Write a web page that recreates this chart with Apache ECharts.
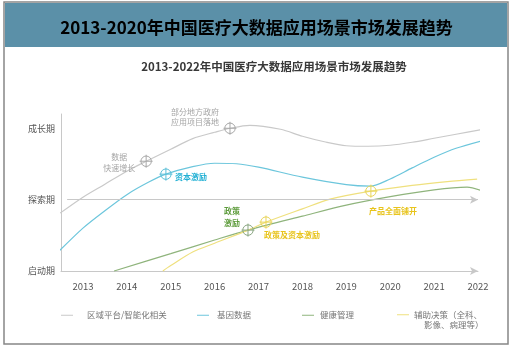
<!DOCTYPE html>
<html>
<head>
<meta charset="utf-8">
<script src="https://cdn.jsdelivr.net/npm/echarts@6/dist/echarts.min.js"></script>
<style>html,body{margin:0;padding:0;background:#fff;}#main{width:513px;height:349px;}</style>
</head>
<body>
<div id="main"></div>
<script>
// ---- data ----
var mainTitle = '2013-2020年中国医疗大数据应用场景市场发展趋势';
var subTitle = '2013-2022年中国医疗大数据应用场景市场发展趋势';
var stageLabels = ['启动期', '探索期', '成长期'];
var seriesNames = ['区域平台/智能化相关', '基因数据', '健康管理', '辅助决策（全科、\n影像、病理等）'];

var grayData = [[2012.48,0.811],[2013,1.035],[2013.5,1.217],[2014,1.399],[2014.44,1.538],[2015,1.706],[2015.5,1.855],[2016,1.944],[2016.35,2.0],[2016.8,2.042],[2017.5,1.986],[2018,1.888],[2018.5,1.811],[2019,1.755],[2019.5,1.748],[2020,1.762],[2020.5,1.804],[2021,1.86],[2021.5,1.916],[2022.11,1.986]];
var blueData = [[2012.39,0.238],[2013,0.601],[2013.5,0.845],[2014,1.07],[2014.5,1.246],[2014.89,1.357],[2015.5,1.462],[2016,1.51],[2016.5,1.503],[2017,1.455],[2018,1.315],[2019,1.21],[2019.54,1.189],[2020,1.29],[2020.5,1.445],[2021,1.594],[2021.5,1.72],[2022.13,1.832]];
var greenData = [[2013.71,0],[2015,0.243],[2016,0.434],[2016.76,0.573],[2018,0.769],[2019,0.923],[2020,1.042],[2021,1.138],[2021.75,1.175],[2022.11,1.119]];
var yellowData = [[2014.82,0],[2015,0.076],[2015.5,0.266],[2016,0.389],[2016.76,0.573],[2017.17,0.685],[2018,0.871],[2018.63,1.007],[2019.56,1.119],[2020.5,1.199],[2021.3,1.252],[2021.98,1.287]];

var grayMarks = [[2014.44,1.538],[2016.35,2.0]];
var grayMarkText = ['数据\n快速增长', '部分地方政府\n应用项目落地'];
var blueMarks = [[2014.89,1.357]];
var blueMarkText = ['资本激励'];
var greenMarks = [[2016.76,0.573]];
var greenMarkText = ['政策\n激励'];
var yellowMarks = [[2017.17,0.685],[2019.56,1.119]];
var yellowMarkText = ['政策及资本激励', '产品全面铺开'];

var stageLineY = 1;
var dividerYear = 2018.63;

// ---- styles ----
var FONT = '"Noto Sans CJK SC", "Noto Sans", sans-serif';
var colors = ['#c9c9c9', '#6cc6dc', '#8fb47c', '#efe07e'];
var markColors = ['#a8a8a8', '#5bbfd8', '#8aa682', '#e9d55a'];
var labelColors = ['#a6a6a6', '#22b0d4', '#5e9c3c', '#e8c41c'];
var crossPath = 'path://M12,0 A12,12 0 1,1 -12,0 A12,12 0 1,1 12,0 Z M0,-15 L0,15 M-15,0 L15,0';

function makeMarks(coords, texts, idx, cfg) {
  return coords.map(function (c, i) {
    return {
      coord: c,
      label: {
        show: true, formatter: texts[i], position: 'inside',
        offset: cfg[i].offset, align: cfg[i].align, verticalAlign: 'middle',
        color: labelColors[idx], fontSize: 8, lineHeight: cfg[i].lh || 11,
        fontWeight: idx === 0 ? 'normal' : 'bold', fontFamily: FONT
      }
    };
  });
}

function markPointOf(coords, texts, idx, cfg) {
  return {
    symbol: crossPath, symbolSize: 13, silent: true,
    itemStyle: { color: 'rgba(0,0,0,0)', borderColor: markColors[idx], borderWidth: 1 },
    data: makeMarks(coords, texts, idx, cfg)
  };
}

var legendText = { color: '#777', fontSize: 8.5, fontFamily: FONT };

var chart = echarts.init(document.getElementById('main'));
var option = {
  animation: false,
  backgroundColor: '#fff',
  title: {
    text: mainTitle, left: 'center', top: 14,
    textStyle: { fontSize: 17, fontWeight: 'bold', color: '#000', fontFamily: FONT }
  },
  graphic: [
    { type: 'rect', z: -10, shape: { x: 5, y: 3, width: 502, height: 44 }, style: { fill: '#5b90a8' } },
    { type: 'rect', z: -9, shape: { x: 4, y: 2, width: 504, height: 342 }, style: { fill: 'none', stroke: '#878787', lineWidth: 1.5 } },
    { type: 'text', style: { text: subTitle, x: 274, y: 67, textAlign: 'center', textVerticalAlign: 'middle', font: 'bold 11.5px ' + FONT, fill: '#383838' } }
  ],
  grid: { left: 61, right: 35, top: 114, bottom: 78 },
  xAxis: {
    type: 'value', min: 2012.5, max: 2022, interval: 0.5,
    axisLine: { show: true, lineStyle: { color: '#c8c8c8', width: 1 }, symbol: ['none', 'arrow'], symbolSize: [6, 8] },
    axisTick: { show: false }, splitLine: { show: false },
    axisLabel: {
      color: '#555', fontSize: 9.5, fontFamily: FONT, margin: 11,
      formatter: function (v) { return Math.abs(v - Math.round(v)) < 1e-6 ? String(Math.round(v)) : ''; }
    }
  },
  yAxis: {
    type: 'value', min: 0, max: 2.2, interval: 1,
    axisLine: { show: true, lineStyle: { color: '#c8c8c8', width: 1 } },
    axisTick: { show: false }, splitLine: { show: false },
    axisLabel: {
      color: '#555', fontSize: 9, fontFamily: FONT, margin: 6,
      formatter: function (v) { return Math.abs(v - Math.round(v)) < 1e-6 ? (stageLabels[Math.round(v)] || '') : ''; }
    }
  },
  legend: [
    { left: 56, top: 306, itemWidth: 12, itemHeight: 1, icon: 'rect', data: [seriesNames[0]], textStyle: Object.assign({ padding: [0, 0, 0, 9] }, legendText) },
    { left: 192, top: 306, itemWidth: 12, itemHeight: 1, icon: 'rect', data: [seriesNames[1]], textStyle: Object.assign({ padding: [0, 0, 0, 3] }, legendText) },
    { left: 297, top: 306, itemWidth: 12, itemHeight: 1, icon: 'rect', data: [seriesNames[2]], textStyle: Object.assign({ padding: [0, 0, 0, 1] }, legendText) },
    { left: 392, top: 306, itemWidth: 12, itemHeight: 1, icon: 'rect', data: [seriesNames[3]],
      formatter: function (n) { var p = n.split('\n'); return '{a|' + p[0] + '}\n{b|' + p[1] + '}'; },
      textStyle: { color: '#777', fontSize: 8.5, fontFamily: FONT, padding: [11, 0, 0, 0],
        rich: { a: { color: '#777', fontSize: 8.5, fontFamily: FONT, lineHeight: 10 }, b: { color: '#777', fontSize: 8.5, fontFamily: FONT, lineHeight: 10, padding: [0, 0, 0, 10] } } } }
  ],
  series: [
    {
      name: seriesNames[0], type: 'line', data: grayData, smooth: 0.3, showSymbol: false, clip: false,
      lineStyle: { color: colors[0], width: 1.2 }, itemStyle: { color: colors[0] },
      markPoint: markPointOf(grayMarks, grayMarkText, 0, [{ offset: [-27, 1], align: 'center' }, { offset: [-35, -11], align: 'center', lh: 10 }]),
      markLine: {
        silent: true, label: { show: false },
        data: [
          [{ coord: [2012.64, stageLineY], symbol: 'none' }, { coord: [2022, stageLineY], symbol: 'arrow', symbolSize: [6, 8] }],
          [{ coord: [dividerYear, 0], symbol: 'none' }, { coord: [dividerYear, 2.21], symbol: 'none' }]
        ],
        lineStyle: { color: '#c8c8c8', width: 1, type: 'solid' }
      }
    },
    {
      name: seriesNames[1], type: 'line', data: blueData, smooth: 0.3, showSymbol: false, clip: false,
      lineStyle: { color: colors[1], width: 1.2 }, itemStyle: { color: colors[1] },
      markPoint: markPointOf(blueMarks, blueMarkText, 1, [{ offset: [9, 3], align: 'left' }])
    },
    {
      name: seriesNames[2], type: 'line', data: greenData, smooth: 0.3, showSymbol: false, clip: false,
      lineStyle: { color: colors[2], width: 1.2 }, itemStyle: { color: colors[2] },
      markPoint: markPointOf(greenMarks, greenMarkText, 2, [{ offset: [-16, -13], align: 'center', lh: 12 }])
    },
    {
      name: seriesNames[3], type: 'line', data: yellowData, smooth: 0.3, showSymbol: false, clip: false,
      lineStyle: { color: colors[3], width: 1.2 }, itemStyle: { color: colors[3] },
      markPoint: markPointOf(yellowMarks, yellowMarkText, 3, [{ offset: [-2, 13], align: 'left' }, { offset: [-2, 20], align: 'left' }])
    }
  ]
};
chart.setOption(option);
</script>
</body>
</html>
